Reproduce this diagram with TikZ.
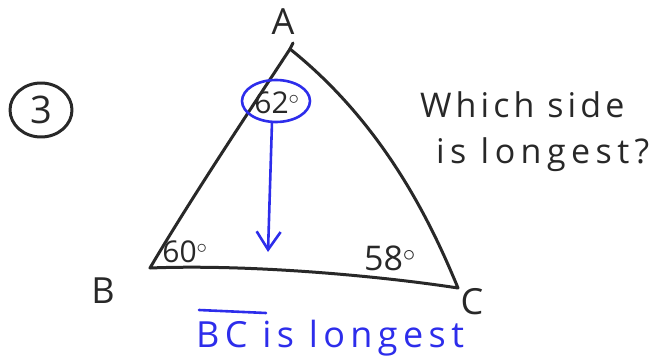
\documentclass[tikz,border=0pt]{standalone}
\usepackage{fontspec}
\setmainfont{Open Sans}
\newfontfamily\handfont[LetterSpace=12]{Open Sans}
\newfontfamily\handwide[LetterSpace=16]{Open Sans}
\newfontfamily\bluehand[LetterSpace=15]{Open Sans}
\usetikzlibrary{arrows.meta,shapes.geometric}
\definecolor{pen}{RGB}{40,40,40}
\definecolor{bluepen}{RGB}{45,45,235}
\tikzset{
  ink/.style={draw=pen, line width=3pt, line cap=round, line join=round},
  blueink/.style={draw=bluepen, line width=2.6pt, line cap=round, line join=round},
  lbl/.style={font=\fontsize{36}{36}\selectfont, text=pen, inner sep=0pt},
  ang/.style={font=\fontsize{30}{30}\selectfont, text=pen, inner sep=0pt},
  note/.style={font=\handfont\fontsize{34}{34}\selectfont, text=pen, inner sep=0pt, anchor=base west},
  bnote/.style={font=\bluehand\fontsize{36}{36}\selectfont, text=bluepen, inner sep=0pt, anchor=base west}
}
\begin{document}
\begin{tikzpicture}[x=1pt,y=-1pt]
\useasboundingbox (0,0) rectangle (667,356);
% vertices
\coordinate (A) at (290,49);
\coordinate (B) at (150,268);
\coordinate (C) at (458,288);
% triangle
\draw[ink] (A) .. controls (250,110) and (190,200) .. (B)
  .. controls (250,264) and (380,276) .. (C)
  .. controls (432,225) and (385,125) .. (A);
\draw[ink] (A) -- (293,43);
% vertex labels
\node[lbl] (la) at (283,22) {A};
\node[lbl] (lb) at (103,291) {B};
\node[lbl] (lc) at (472,302) {C};
% problem number
\node[ink, ellipse, minimum width=62pt, minimum height=54pt, inner sep=0pt, font=\fontsize{38}{38}\selectfont, text=pen] (num) at (41,110) {3};
% angles
\node[ang] (a62) at (277,103) {62$^{\circ}$};
\node[ang] (a60) at (185,252) {60$^{\circ}$};
\node[ang, font=\fontsize{34}{34}\selectfont] (a58) at (390,258) {58$^{\circ}$};
% highlight of 62
\draw[blueink] (276,101) ellipse [x radius=34pt, y radius=21pt];
\coordinate (arrowend) at (268,252);
\draw[blueink, -{Straight Barb[length=18pt, width=24pt]}] (272,122) -- (arrowend);
% question
\node[note] (q1) at (420,117) {Which side};
\node[note, font=\handwide\fontsize{34}{34}\selectfont] (q2) at (436,163) {is longest?};
% answer
\node[bnote] (ans) at (196,347) {BC is longest};
\draw[blueink] (199,310) -- (266,313);
\end{tikzpicture}
\end{document}
